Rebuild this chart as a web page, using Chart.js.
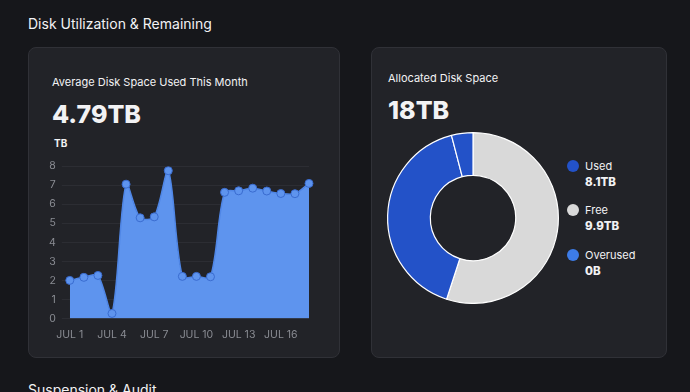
<!DOCTYPE html>
<html>
<head>
<meta charset="utf-8">
<style>
  body { margin:0; width:690px; height:392px; background:#16171b; font-family:Inter, "Noto Sans", sans-serif; color:#f2f2f4; overflow:hidden; position:relative; }
  .abs { position:absolute; white-space:nowrap; }
  .card { position:absolute; top:47px; height:311px; background:#222328; border:1px solid #303137; border-radius:8px; box-sizing:border-box; }
  .dot { position:absolute; width:12px; height:12px; border-radius:50%; }
</style>
</head>
<body>
<div class="abs" style="left:28px;top:15px;font-size:14px;">Disk Utilization &amp; Remaining</div>

<div class="card" style="left:28px;width:312px;"></div>
<div class="card" style="left:371px;width:296px;"></div>

<div class="abs" style="left:52px;top:75px;font-size:11px;">Average Disk Space Used This Month</div>
<div class="abs" style="left:52px;top:99px;font-size:25px;font-weight:800;">4.79TB</div>
<div class="abs" style="left:54px;top:137px;font-size:10px;font-weight:700;">TB</div>

<div class="abs" style="left:388px;top:71px;font-size:11px;">Allocated Disk Space</div>
<div class="abs" style="left:388px;top:95px;font-size:25px;font-weight:800;">18TB</div>

<div class="abs" style="left:43px;top:154px;width:271px;height:189px;"><canvas id="lineChart"></canvas></div>
<div class="abs" style="left:386px;top:132px;width:174px;height:172px;"><canvas id="donutChart"></canvas></div>

<div id="legend"></div>

<div class="abs" style="left:28px;top:381px;font-size:14px;">Suspension &amp; Audit</div>

<script src="https://cdn.jsdelivr.net/npm/chart.js"></script>
<script>
  // daily average usage, TB
  const days = ['JUL 1','JUL 2','JUL 3','JUL 4','JUL 5','JUL 6','JUL 7','JUL 8','JUL 9','JUL 10',
                'JUL 11','JUL 12','JUL 13','JUL 14','JUL 15','JUL 16','JUL 17','JUL 18'];
  const usedTB = [2.0, 2.16, 2.26, 0.26, 7.06, 5.29, 5.34, 7.77, 2.21, 2.21,
                  2.19, 6.63, 6.71, 6.85, 6.70, 6.57, 6.56, 7.10];
  const yTicks = [0, 1, 2, 3, 4, 5, 6, 7, 8];

  // allocated space split (ring starts at top, clockwise)
  const sliceNames = ['Free', 'Used', 'Used (recent)'];
  const sliceValues = [9.9, 7.37, 0.73];
  const sliceColors = ['#d9d9d9', '#2352c8', '#2352c8'];

  const legendNames = ['Used', 'Free', 'Overused'];
  const legendValues = ['8.1TB', '9.9TB', '0B'];
  const legendColors = ['#2352c8', '#d9d9d9', '#3d7ce8'];

  Chart.defaults.font.family = 'Inter, "Noto Sans", sans-serif';

  new Chart(document.getElementById('lineChart'), {
    type: 'line',
    data: {
      labels: days,
      datasets: [{
        data: usedTB,
        fill: true,
        backgroundColor: '#5e94ee',
        borderColor: '#4f86e6',
        borderWidth: 1.5,
        tension: 0.3,
        pointRadius: 4,
        pointBackgroundColor: '#5e94ee',
        pointBorderColor: '#3a6cd0',
        pointBorderWidth: 1
      }]
    },
    options: {
      responsive: true,
      maintainAspectRatio: false,
      animation: false,
      plugins: { legend: { display: false }, tooltip: { enabled: false } },
      scales: {
        x: {
          grid: { display: false },
          border: { display: false },
          ticks: {
            color: '#8a8c93', font: { size: 10.5 }, autoSkip: false, maxRotation: 0, padding: 2,
            callback: function(v, i) { return i % 3 === 0 ? days[i] : ''; }
          }
        },
        y: {
          min: 0, max: 8,
          afterBuildTicks: function(ax) { ax.ticks = yTicks.map(v => ({ value: v })); },
          grid: { color: '#2c2d33' },
          border: { display: false },
          ticks: { color: '#8a8c93', font: { size: 10.5 }, padding: 6 }
        }
      }
    }
  });

  new Chart(document.getElementById('donutChart'), {
    type: 'doughnut',
    data: {
      labels: sliceNames,
      datasets: [{
        data: sliceValues,
        backgroundColor: sliceColors,
        borderColor: '#ffffff',
        borderWidth: 1.2
      }]
    },
    options: {
      responsive: true,
      maintainAspectRatio: false,
      animation: false,
      cutout: '50%',
      plugins: { legend: { display: false }, tooltip: { enabled: false } }
    }
  });

  const legend = document.getElementById('legend');
  legendNames.forEach(function(name, i) {
    const top = 160 + i * 44.3;
    legend.insertAdjacentHTML('beforeend',
      '<div class="dot" style="left:567px;top:' + top + 'px;background:' + legendColors[i] + ';"></div>' +
      '<div class="abs" style="left:585px;top:' + (top - 1) + 'px;font-size:11px;">' + name + '</div>' +
      '<div class="abs" style="left:585px;top:' + (top + 15) + 'px;font-size:11.5px;font-weight:800;">' + legendValues[i] + '</div>');
  });
</script>
</body>
</html>
